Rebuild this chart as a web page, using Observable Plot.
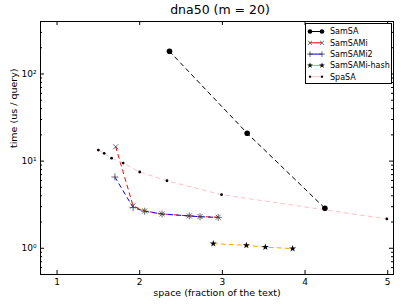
<!DOCTYPE html>
<html><head><meta charset="utf-8">
<script src="https://cdn.jsdelivr.net/npm/d3@7"></script>
<script src="https://cdn.jsdelivr.net/npm/@observablehq/plot@0.6"></script>
<style>
body{margin:0;background:#fff;font-family:"DejaVu Sans",sans-serif;}
#wrap{position:relative;width:407px;height:305px;overflow:hidden;background:#fff}
#title{position:absolute;left:120px;width:200px;top:2px;text-align:center;font-size:12.5px;line-height:15px;color:#000}
#chart{position:absolute;left:0;top:20px}
#legend{position:absolute;left:305px;top:23px}
</style></head>
<body><div id="wrap"><div id="title">dna50 (m = 20)</div><div id="chart"></div><svg id="legend" width="87" height="62"></svg></div>
<script>
const seriesNames = ["SamSA", "SamSAMi", "SamSAMi2", "SamSAMi-hash", "SpaSA"];
const seriesColors = ["#000000", "#ff0000", "#0000ff", "#ffa500", "#ffc0cb"];
const seriesSymbols = ["circle", "times", "plus", "star", "dot"];

const spaceSamSA = [2.36, 3.30, 4.24];
const timeSamSA = [182, 20.9, 2.88];
const spaceSamSAMi = [1.71, 1.92, 2.06, 2.27, 2.60, 2.73, 2.95];
const timeSamSAMi = [14.6, 3.06, 2.68, 2.48, 2.35, 2.31, 2.27];
const spaceSamSAMi2 = [1.70, 1.92, 2.06, 2.27, 2.60, 2.73, 2.95];
const timeSamSAMi2 = [6.57, 2.93, 2.66, 2.47, 2.35, 2.30, 2.26];
const spaceHash = [2.89, 3.29, 3.52, 3.85];
const timeHash = [1.13, 1.08, 1.03, 0.99];
const spaceSpaSA = [1.50, 1.57, 1.66, 1.80, 2.00, 2.33, 2.99, 4.99];
const timeSpaSA = [13.4, 12.3, 10.8, 9.5, 7.5, 5.95, 4.12, 2.17];

const xTicks = [1, 2, 3, 4, 5];
const yMajor = [1, 10, 100];
const yMinor = [0.5, 0.6, 0.7, 0.8, 0.9, 2, 3, 4, 5, 6, 7, 8, 9, 20, 30, 40, 50, 60, 70, 80, 90, 200, 300, 400];
const xLabel = "space (fraction of the text)";
const yLabel = "time (us / query)";
const sup = {"0": "⁰", "1": "¹", "2": "²", "-": "⁻"};

const allSpace = [spaceSamSA, spaceSamSAMi, spaceSamSAMi2, spaceHash, spaceSpaSA];
const allTime = [timeSamSA, timeSamSAMi, timeSamSAMi2, timeHash, timeSpaSA];
const series = seriesNames.map((name, i) => allSpace[i].map((s, j) => ({name, space: s, time: allTime[i][j]})));

const W = 407, H = 285, mL = 40, mR = 14, mT = 1, mB = 31;
const fw = W - mL - mR, fh = H - mT - mB;

const marks = [];
series.forEach((data, i) => {
  marks.push(Plot.line(data, {x: "space", y: "time", stroke: seriesColors[i], strokeWidth: 1, strokeDasharray: "4,4"}));
});
const dotOpts = [
  {r: 2.8, fill: "black", symbol: "circle"},
  {r: 2.4, stroke: "#444", strokeWidth: 0.8, symbol: "times"},
  {r: 2.4, stroke: "#444", strokeWidth: 0.8, symbol: "plus"},
  {r: 2.2, fill: "black", symbol: "star"},
  {r: 1.4, fill: "black", symbol: "circle"}
];
series.forEach((data, i) => {
  marks.push(Plot.dot(data, {x: "space", y: "time", ...dotOpts[i]}));
});

const chart = Plot.plot({
  width: W, height: H,
  marginLeft: mL, marginRight: mR, marginTop: mT, marginBottom: mB,
  style: {fontFamily: "DejaVu Sans", fontSize: "9px", color: "black", background: "white"},
  x: {domain: [0.8, 5.07], ticks: xTicks},
  y: {type: "log", domain: [0.5, 400]},
  marks: [
    ...marks,
    Plot.frame({stroke: "black", strokeWidth: 1}),
    Plot.ruleX(xTicks, {x: d => d, insetTop: fh - 4, stroke: "black"}),
    Plot.ruleX(xTicks, {x: d => d, insetBottom: fh - 4, stroke: "black"}),
    Plot.ruleY(yMajor, {y: d => d, insetRight: fw - 4, stroke: "black"}),
    Plot.ruleY(yMajor, {y: d => d, insetLeft: fw - 4, stroke: "black"}),
    Plot.ruleY(yMinor, {y: d => d, insetRight: fw - 2, stroke: "black"}),
    Plot.ruleY(yMinor, {y: d => d, insetLeft: fw - 2, stroke: "black"}),
    Plot.axisX(xTicks, {tickSize: 0, tickPadding: 4, label: null, fontSize: 9}),
    Plot.axisY(yMajor, {tickSize: 0, tickPadding: 4, label: null, fontSize: 9,
      tickFormat: d => "10" + String(Math.round(Math.log10(d))).split("").map(c => sup[c]).join("")}),
    Plot.text([xLabel], {frameAnchor: "bottom", dy: 18, fontSize: 9.5, lineAnchor: "middle"}),
    Plot.text([yLabel], {frameAnchor: "left", dx: -27, rotate: -90, fontSize: 9.5, lineAnchor: "middle"})
  ]
});
document.getElementById("chart").appendChild(chart);

// legend
const lg = d3.select("#legend");
lg.append("rect").attr("x", 0.5).attr("y", 0.5).attr("width", 86).attr("height", 60)
  .attr("fill", "white").attr("stroke", "black").attr("stroke-width", 1);
const symMap = {circle: d3.symbolCircle, times: d3.symbolTimes, plus: d3.symbolPlus, star: d3.symbolStar, dot: d3.symbolCircle};
seriesNames.forEach((name, i) => {
  const y = 8.5 + i * 11.3;
  const g = lg.append("g");
  g.append("line").attr("x1", 4).attr("x2", 17).attr("y1", y).attr("y2", y)
    .attr("stroke", seriesColors[i]).attr("stroke-width", 1);
  const o = dotOpts[i];
  const size = o.r * o.r * 2.2;
  [5, 17].forEach(cx => {
    g.append("path").attr("d", d3.symbol(symMap[seriesSymbols[i]], size)())
      .attr("transform", `translate(${cx},${y})`)
      .attr("fill", o.fill || "none").attr("stroke", o.stroke || "none").attr("stroke-width", o.strokeWidth || 0);
  });
  g.append("text").attr("x", 25).attr("y", y).attr("dy", "0.35em")
    .attr("font-size", 8).attr("font-family", "DejaVu Sans").text(name);
});
</script></body></html>
